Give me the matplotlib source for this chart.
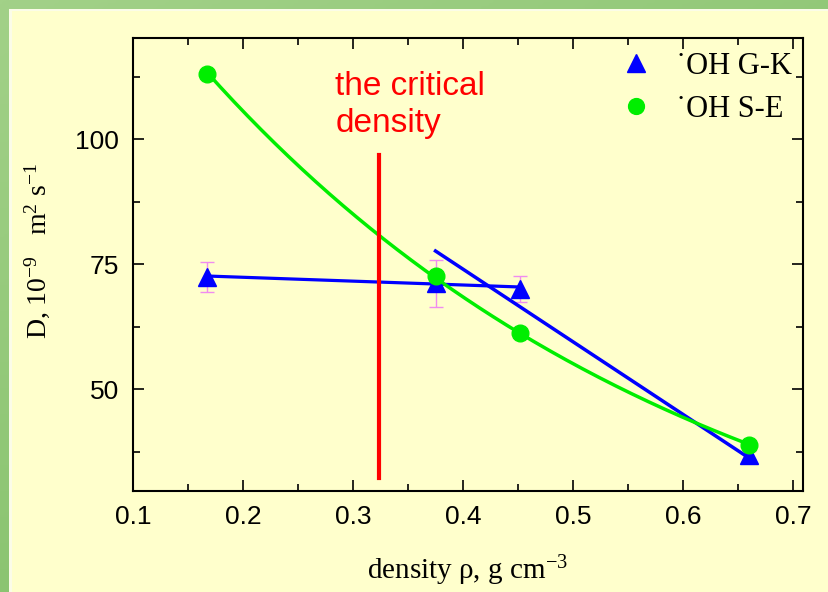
import numpy as np
import matplotlib
matplotlib.use("Agg")
import matplotlib.pyplot as plt
from matplotlib.patches import Rectangle
from matplotlib.ticker import MultipleLocator

plt.rcParams["mathtext.fontset"] = "custom"
plt.rcParams["mathtext.rm"] = "Liberation Serif"
plt.rcParams["mathtext.it"] = "Liberation Serif:italic"

# data
density = [0.167, 0.375, 0.452, 0.660]
d_gk = [72.4, 71.2, 70.0, 36.8]
d_gk_err = [3.0, 4.7, 2.6, 0.8]
d_se = [113.0, 72.6, 61.2, 38.8]

# straight fit segments drawn through the G-K points
fit1_x = [0.167, 0.452]
fit1_y = [72.6, 70.4]
fit2_x = [0.375, 0.660]
fit2_y = [77.6, 36.2]

critical_rho = 0.324
critical_span = [32.2, 96.8]

fig = plt.figure(figsize=(8.29, 5.92), dpi=100)

# green gradient frame + pale yellow panel
bg = fig.add_axes([0, 0, 1, 1])
gx, gy = np.meshgrid(np.linspace(0, 1, 200), np.linspace(0, 1, 200))
g = gx * 0.4 + gy * 0.6
bg.imshow(g, cmap=matplotlib.colors.LinearSegmentedColormap.from_list(
    "gr", ["#a2d188", "#7cbc62"]), extent=[0, 1, 0, 1], aspect="auto")
bg.add_patch(Rectangle((0.011, 0), 1.0, 0.985, color="#fbfce8", lw=0))
bg.add_patch(Rectangle((0.014, 0), 1.0, 0.981, color="#ffffcc", lw=0))
bg.set_xlim(0, 1)
bg.set_ylim(0, 1)
bg.axis("off")

ax = fig.add_axes([0.1604, 0.1706, 0.8082, 0.7652])
ax.set_facecolor("none")

ax.errorbar(density, d_gk, yerr=d_gk_err, fmt="none", ecolor="#f08cf0",
            elinewidth=1, capsize=5, capthick=1, zorder=2)
ax.plot(fit1_x, fit1_y, color="#0000ff", lw=2.3, zorder=3)
ax.plot(fit2_x, fit2_y, color="#0000ff", lw=2.5, zorder=3)

# exponential fit of the S-E points
b, lna = np.polyfit(density, np.log(d_se), 1)
xs = np.linspace(density[0], density[-1], 200)
ax.plot(xs, np.exp(lna) * np.exp(b * xs), color="#00ee00", lw=2.5, zorder=3)

ax.plot(density, d_gk, "^", color="#0000ff", ms=13, lw=0, zorder=4,
        label="\u02d9OH G-K")
ax.plot(density, d_se, "o", color="#00ee00", ms=12, lw=0, zorder=5,
        label="\u02d9OH S-E")

ax.plot([critical_rho, critical_rho], critical_span, color="#ff0000", lw=3,
        zorder=3)
ax.text(0.284, 100.0, "the critical\ndensity", color="#ff0000", fontsize=24,
        family="Liberation Sans", ha="left", va="bottom", linespacing=1.25)

ax.set_xlim(0.1, 0.709)
ax.set_ylim(29.6, 120.2)
ax.xaxis.set_major_locator(MultipleLocator(0.1))
ax.xaxis.set_minor_locator(MultipleLocator(0.05))
ax.yaxis.set_major_locator(MultipleLocator(25))
ax.yaxis.set_minor_locator(MultipleLocator(12.5))
ax.tick_params(which="both", direction="in", top=True, right=True,
               width=1.2, labelsize=19, pad=10)
ax.tick_params(which="major", length=8)
ax.tick_params(which="minor", length=5)
for lab in ax.get_xticklabels() + ax.get_yticklabels():
    lab.set_family("Liberation Sans")
for s in ax.spines.values():
    s.set_linewidth(1.5)

ax.set_xlabel("density \u03c1, g cm$^{-3}$", family="Liberation Serif",
              fontsize=21, labelpad=18)
ax.set_ylabel("D, 10$^{-9}$   m$^{2}$ s$^{-1}$", family="Liberation Serif",
              fontsize=20)
ax.yaxis.set_label_coords(-0.121, 0.53)

leg = ax.legend(loc="upper right", bbox_to_anchor=(1.025, 1.03), frameon=False,
                prop={"family": "Liberation Serif", "size": 22},
                handletextpad=0.5, labelspacing=0.45, markerscale=0.95,
                handlelength=1.6)

fig.savefig("out.png", dpi=100)
